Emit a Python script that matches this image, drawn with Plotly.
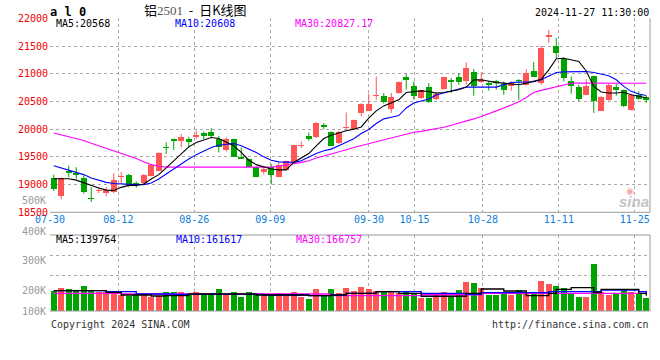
import plotly.graph_objects as go
import pandas as pd

W, H = 660, 360

# ---------------- data ----------------
HOLIDAYS = ["2024-09-16", "2024-09-17", "2024-10-01", "2024-10-02",
            "2024-10-03", "2024-10-04", "2024-10-07"]
trade_days = pd.bdate_range("2024-07-30", "2024-11-27", freq="C", holidays=HOLIDAYS)
DATES = [d.strftime("%m-%d") for d in trade_days]

TICK_DATES = ["07-30", "08-12", "08-26", "09-09", "09-30", "10-15", "10-28", "11-11", "11-25"]
PRICE_TICKS = [18500, 19000, 19500, 20000, 20500, 21000, 21500, 22000]

OPEN = [19121, 18790, 19253, 19211, 19121, 18763, 18883, 18847, 18865, 19133,
        19181, 19026, 19026, 19163, 19253, 19683, 19820, 19779, 19820, 19850,
        19922, 19940, 19820, 19623, 19820, 19504, 19462, 19313, 19235, 19313,
        19145, 19265, 19402, 19701, 19880, 19850, 20080, 19952, 19743, 20020,
        19995, 20293, 20335, 20592, 20604, 20371, 20652, 20939, 20771, 20562,
        20759, 20550, 20723, 20879, 20939, 20861, 21028, 20849, 20831, 20861,
        20813, 20771, 20891, 20801, 21046, 20831, 21667, 21500, 21273, 20873,
        20759, 20622, 20962, 20335, 20532, 20759, 20712, 20353, 20610, 20574]
HIGH = [19181, 19135, 19342, 19313, 19163, 18954, 18954, 18954, 19205, 19223,
        19193, 19062, 19193, 19372, 19581, 19761, 19830, 19910, 19862, 19970,
        19958, 20018, 19880, 19850, 19830, 19671, 19470, 19325, 19313, 19372,
        19402, 19432, 19720, 19779, 19940, 20125, 20110, 19960, 19970, 20300,
        20175, 20470, 20640, 20950, 20652, 20652, 20861, 20998, 20861, 20710,
        20831, 20664, 20945, 20921, 21010, 21201, 21088, 21028, 20861, 20891,
        20861, 20861, 20903, 21082, 21213, 21500, 21787, 21643, 21297, 20950,
        20801, 20903, 20965, 20592, 20819, 20819, 20715, 20640, 20682, 20604]
LOW = [18883, 18740, 19133, 19104, 18835, 18685, 18847, 18787, 18847, 19014,
       18954, 18942, 19014, 19145, 19240, 19552, 19623, 19671, 19671, 19820,
       19820, 19850, 19581, 19599, 19500, 19462, 19320, 19133, 19181, 19002,
       19133, 19253, 19400, 19659, 19791, 19840, 20000, 19690, 19730, 19990,
       19990, 20230, 20330, 20532, 20461, 20293, 20640, 20712, 20532, 20550,
       20473, 20520, 20710, 20652, 20801, 20801, 20604, 20831, 20694, 20712,
       20622, 20694, 20532, 20783, 20945, 20801, 21560, 21285, 20861, 20640,
       20502, 20615, 20293, 20330, 20514, 20604, 20395, 20335, 20532, 20473]
CLOSE = [18912, 19115, 19205, 19181, 18865, 18745, 18906, 18906, 19086, 19163,
         18966, 18984, 19181, 19354, 19564, 19653, 19779, 19862, 19761, 19898,
         19880, 19880, 19671, 19820, 19504, 19462, 19325, 19145, 19283, 19181,
         19360, 19420, 19713, 19719, 19820, 20119, 20035, 19701, 19952, 20035,
         20162, 20461, 20461, 20622, 20484, 20580, 20843, 20879, 20592, 20700,
         20490, 20640, 20939, 20843, 20849, 21100, 20771, 20891, 20789, 20831,
         20700, 20831, 20861, 21010, 20950, 21464, 21691, 21369, 20921, 20771,
         20550, 20783, 20502, 20580, 20801, 20712, 20413, 20622, 20550, 20520]

MA5 = [19105, 19105, 19105, 19080, 19030, 18990, 18940, 18900, 18895, 18950,
       18985, 18985, 19010, 19100, 19180, 19300, 19430, 19560, 19680, 19760,
       19810, 19850, 19830, 19760, 19700, 19580, 19440, 19360, 19320, 19280,
       19265, 19265, 19400, 19480, 19560, 19700, 19830, 19890, 19935, 19970,
       20000, 20040, 20200, 20330, 20420, 20480, 20530, 20660, 20680, 20690,
       20680, 20650, 20660, 20690, 20710, 20759, 20890, 20890, 20865, 20840,
       20830, 20810, 20800, 20831, 20861, 20900, 21070, 21270, 21280, 21250,
       21220, 21050, 20770, 20670, 20652, 20652, 20665, 20622, 20592, 20568]
MA10 = [19340, 19300, 19270, 19230, 19180, 19120, 19080, 19040, 19020, 19010,
        19000, 19000, 19000, 19030, 19100, 19190, 19280, 19380, 19460, 19540,
        19610, 19670, 19710, 19730, 19740, 19700, 19640, 19580, 19500, 19440,
        19410, 19400, 19400, 19430, 19500, 19560, 19610, 19640, 19700, 19770,
        19827, 19923, 19995, 20102, 20186, 20215, 20245, 20383, 20473, 20508,
        20544, 20616, 20652, 20682, 20712, 20759, 20759, 20759, 20759, 20759,
        20801, 20843, 20849, 20849, 20855, 20891, 20950, 21022, 21034, 21040,
        21040, 21040, 21022, 20998, 20962, 20891, 20771, 20682, 20634, 20608]
MA30 = [19930, 19895, 19865, 19830, 19795, 19745, 19700, 19650, 19600, 19555,
        19520, 19470, 19410, 19360, 19330, 19315, 19315, 19315, 19315, 19315,
        19315, 19315, 19315, 19315, 19315, 19315, 19315, 19315, 19315, 19315,
        19330, 19350, 19380, 19400, 19430, 19480, 19515, 19550, 19590, 19630,
        19670, 19705, 19740, 19775, 19810, 19850, 19885, 19915, 19945, 19960,
        19985, 20005, 20035, 20070, 20105, 20145, 20185, 20230, 20275, 20330,
        20380, 20440, 20495, 20570, 20660, 20700, 20735, 20765, 20800, 20828,
        20830, 20830, 20830, 20830, 20830, 20830, 20830, 20830, 20828, 20827]

VOLUME_K = [180, 204, 193, 177, 217, 180, 172, 172, 172, 145,
            140, 145, 145, 132, 137, 172, 172, 172, 158, 172,
            158, 158, 196, 153, 172, 132, 172, 153, 153, 145,
            164, 150, 172, 132, 113, 196, 145, 193, 164, 204,
            177, 212, 196, 180, 172, 177, 158, 177, 158, 124,
            124, 145, 172, 132, 185, 252, 244, 204, 145, 145,
            158, 145, 185, 158, 150, 260, 236, 217, 198, 153,
            132, 132, 393, 172, 145, 153, 185, 172, 153, 124]
VMA5_K = [180, 180, 180, 180, 180, 180, 180, 166, 166, 145,
          145, 145, 145, 137, 137, 140, 140, 140, 153, 153,
          153, 153, 153, 153, 153, 153, 153, 145, 145, 145,
          145, 145, 145, 145, 140, 140, 140, 145, 145, 158,
          158, 158, 158, 172, 172, 172, 158, 158, 158, 135,
          135, 135, 135, 135, 135, 158, 158, 193, 193, 193,
          177, 177, 177, 140, 140, 140, 158, 190, 190, 204,
          204, 204, 165, 190, 190, 190, 190, 190, 158, 140]
VMA10_K = [180, 180, 180, 180, 180, 180, 180, 172, 172, 172,
           172, 153, 153, 153, 153, 153, 150, 150, 150, 150,
           150, 150, 150, 150, 150, 150, 150, 150, 145, 145,
           145, 145, 145, 145, 140, 140, 140, 145, 145, 158,
           158, 158, 158, 172, 172, 172, 172, 172, 172, 158,
           158, 158, 158, 158, 158, 150, 150, 164, 164, 164,
           164, 164, 164, 164, 164, 164, 172, 172, 172, 172,
           172, 172, 172, 185, 185, 185, 185, 185, 172, 162]
VMA30_K = [158, 158, 158, 158, 158, 158, 158, 158, 158, 153,
           153, 153, 153, 153, 153, 153, 153, 153, 153, 153,
           153, 153, 153, 153, 153, 153, 153, 153, 153, 153,
           153, 153, 153, 153, 153, 153, 153, 140, 140, 140,
           140, 140, 140, 140, 140, 140, 140, 140, 140, 147,
           147, 147, 147, 147, 147, 147, 147, 158, 158, 158,
           158, 158, 158, 158, 158, 158, 158, 158, 158, 158,
           158, 158, 158, 158, 158, 158, 158, 158, 158, 166]

LEGEND_PRICE = ["MA5:20568", "MA10:20608", "MA30:20827.17"]
LEGEND_VOL = ["MA5:139764", "MA10:161617", "MA30:166757"]
VOL_LABELS = ["500K", "400K", "300K", "200K", "100K"]

# ---------------- styling ----------------
RED = "#ff5555"
GREEN = "#00a400"
GRID = "#a8a8a8"
BORDER = "#9a9a9a"
MONO = "DejaVu Sans Mono"

N = len(CLOSE)
idx = list(range(N))


def px(x):
    return x / W


def py(y):
    return 1 - y / H


# gridline positions (Sina spaces them over N-1 slots)
tick_vals = [DATES.index(t) * N / (N - 1) - 0.5 for t in TICK_DATES]

fig = go.Figure()

# wicks
for up, col in ((True, RED), (False, GREEN)):
    xs, ys = [], []
    for i in idx:
        if (CLOSE[i] >= OPEN[i]) == up:
            xs += [i, i, None]
            ys += [LOW[i], HIGH[i], None]
    fig.add_trace(go.Scatter(x=xs, y=ys, mode="lines", line=dict(color=col, width=1),
                             xaxis="x", yaxis="y", hoverinfo="skip", showlegend=False))

# bodies
body_base = [min(o, c) for o, c in zip(OPEN, CLOSE)]
body_h = [max(abs(c - o), 18) for o, c in zip(OPEN, CLOSE)]
body_col = [RED if c >= o else GREEN for o, c in zip(OPEN, CLOSE)]
fig.add_trace(go.Bar(x=idx, y=body_h, base=body_base, width=0.82,
                     marker=dict(color=body_col, line=dict(width=0)),
                     xaxis="x", yaxis="y", showlegend=False))

for ser, col in ((MA30, "#ff00ff"), (MA10, "#0000ff"), (MA5, "#000000")):
    fig.add_trace(go.Scatter(x=idx, y=ser, mode="lines", line=dict(color=col, width=1.1),
                             xaxis="x", yaxis="y", showlegend=False))

# volume
fig.add_trace(go.Bar(x=idx, y=[v * 1000 for v in VOLUME_K], width=0.77,
                     marker=dict(color=body_col, line=dict(width=0)),
                     xaxis="x2", yaxis="y2", showlegend=False))
for ser, col in ((VMA30_K, "#ff00ff"), (VMA10_K, "#0000ff"), (VMA5_K, "#000000")):
    fig.add_trace(go.Scatter(x=idx, y=[v * 1000 for v in ser], mode="lines",
                             line=dict(color=col, width=1.3, shape="hv"),
                             xaxis="x2", yaxis="y2", showlegend=False))

MAIN_TOP, MAIN_BOT = 18.3, 212.3
VOL_TOP, VOL_BOT = 235, 311
X0, X1 = 50, 650

axis_common = dict(showgrid=True, gridcolor=GRID, griddash="dot", gridwidth=1,
                   zeroline=False, showline=False, ticks="", automargin=False)

fig.update_layout(
    width=W, height=H, margin=dict(l=0, r=0, t=0, b=0, autoexpand=False),
    paper_bgcolor="white", plot_bgcolor="white", barmode="overlay", bargap=0,
    showlegend=False, hovermode=False,
    xaxis=dict(domain=[px(X0), px(X1)], range=[-0.5, N - 0.5], anchor="y",
               tickmode="array", tickvals=tick_vals, ticktext=TICK_DATES,
               tickfont=dict(family=MONO, size=10, color="#0a80dc"), **axis_common),
    yaxis=dict(domain=[py(MAIN_BOT), py(MAIN_TOP)], range=[18500, 22000], anchor="x",
               tickmode="array", tickvals=PRICE_TICKS,
               ticktext=[str(v) for v in PRICE_TICKS], ticklabelstandoff=1,
               tickfont=dict(family=MONO, size=10, color="#ee0000"), **axis_common),
    xaxis2=dict(domain=[px(X0), px(X1)], range=[-0.5, N - 0.5], anchor="y2", matches="x",
                tickmode="array", tickvals=tick_vals, showticklabels=False, **axis_common),
    yaxis2=dict(domain=[py(VOL_BOT), py(VOL_TOP)], range=[17000, 625000], anchor="x2",
                tickmode="array", tickvals=[299400, 459400], showticklabels=False,
                **axis_common),
)

# solid borders
def hline(y, x0=X0, x1=X1):
    fig.add_shape(type="line", xref="paper", yref="paper", x0=px(x0), x1=px(x1),
                  y0=py(y), y1=py(y), line=dict(color=BORDER, width=1))


def vline(x, y0, y1):
    fig.add_shape(type="line", xref="paper", yref="paper", x0=px(x), x1=px(x),
                  y0=py(y0), y1=py(y1), line=dict(color=BORDER, width=1))


hline(MAIN_BOT)
vline(X1, MAIN_TOP, MAIN_BOT)
hline(VOL_TOP)
hline(VOL_BOT)
vline(X1, VOL_TOP, VOL_BOT)


def text(x, y, s, color="#000", size=10, anchor="left", family=MONO, **kw):
    fig.add_annotation(x=px(x), y=py(y), xref="paper", yref="paper", text=s,
                       showarrow=False, xanchor=anchor, yanchor="middle",
                       font=dict(family=family, size=size, color=color), **kw)


# header
text(48, 12, "<b>a l 0</b>", size=12)
text(195, 9.5,
     "铝<span style='font-family:Liberation Serif;color:#555'>2501</span>"
     "&nbsp;&nbsp;-&nbsp;&nbsp;日K线图",
     size=13, anchor="center", family="Noto Sans CJK SC")
text(651, 12.5, "2024-11-27 11:30:00", anchor="right")

# legends
for s, x, col in zip(LEGEND_PRICE, (54, 173, 293), ("#000", "#0000ff", "#ff00ff")):
    text(x, 23.5, s, color=col)
for s, x, col in zip(LEGEND_VOL, (54, 174, 294), ("#000", "#0000ff", "#ff00ff")):
    text(x, 239, s, color=col)

# volume axis labels
for s, y in zip(VOL_LABELS, (200, 231, 260, 290.5, 311)):
    text(48, y, s, color="#999999", anchor="right")

# footer
text(49, 324, "Copyright 2024 SINA.COM", color="#333333")
text(651, 324, "http://finance.sina.com.cn", color="#333333", anchor="right")

# watermark
text(630, 191, "◉", color="#f3a6a6", size=9, anchor="center", family="DejaVu Sans")
text(634, 201, "<b><i>sina</i></b>", color="#c4c4c4", size=15, anchor="center",
     family="Liberation Sans")

fig.write_html("out.html", config={"displayModeBar": False, "staticPlot": True},
               post_script="document.body.style.margin='0';"
                           "document.body.style.overflow='hidden';")
